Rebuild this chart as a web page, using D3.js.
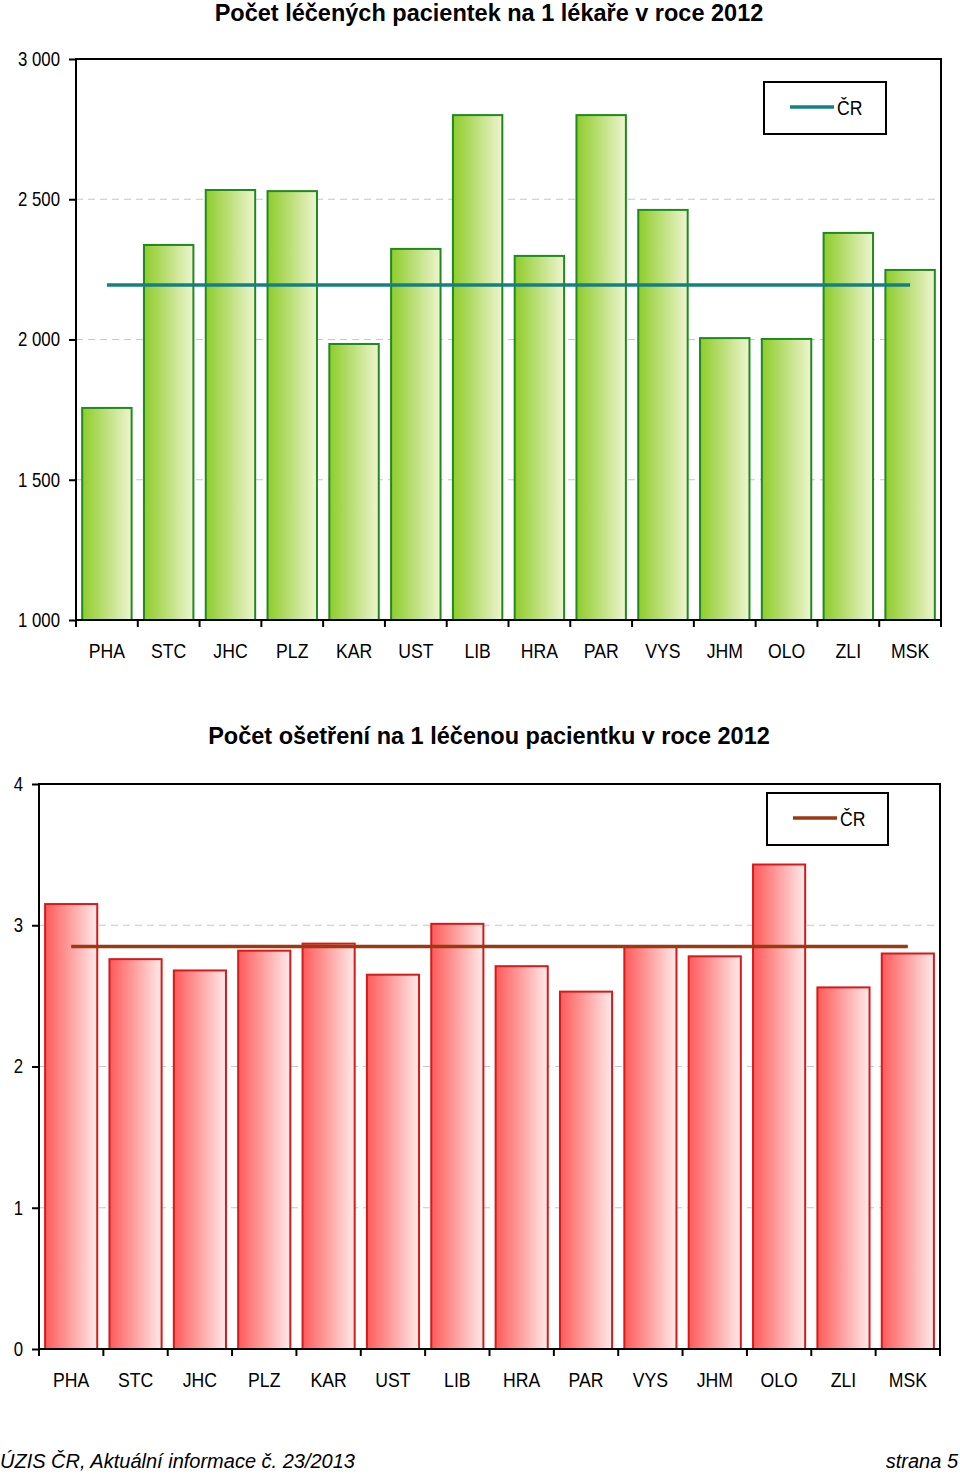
<!DOCTYPE html>
<html><head><meta charset="utf-8">
<script src="https://cdn.jsdelivr.net/npm/d3@7"></script>
<style>body{margin:0;background:#fff}svg{display:block}</style>
</head><body>
<svg id="c" width="960" height="1474"></svg>
<script>
const regions = ["PHA","STC","JHC","PLZ","KAR","UST","LIB","HRA","PAR","VYS","JHM","OLO","ZLI","MSK"];
const patientsPerDoctor = [1756,2337,2533,2529,1984,2323,2800,2298,2800,2462,2005,2002,2380,2248];
const patientsCR = 2194;
const treatmentsPerPatient = [3.15,2.76,2.68,2.82,2.87,2.65,3.01,2.71,2.53,2.85,2.78,3.43,2.56,2.80];
const treatmentsCR = 2.85;
const title1 = "Počet léčených pacientek na 1 lékaře v roce 2012";
const title2 = "Počet ošetření na 1 léčenou pacientku v roce 2012";
const yTicks1 = [1000,1500,2000,2500,3000];
const yTicks2 = [0,1,2,3,4];
const legendLabel = "ČR";

const svg = d3.select("#c");
const defs = svg.append("defs");
function grad(id, c1, c2){
  const g = defs.append("linearGradient").attr("id", id).attr("x1","0").attr("x2","1").attr("y1","0").attr("y2","0");
  g.append("stop").attr("offset","0").attr("stop-color",c1);
  g.append("stop").attr("offset","1").attr("stop-color",c2);
}
grad("gGreen","#8fcc2a","#eef5cf");
grad("gRed","#ff5a5a","#ffeaea");

const fmt = d => d3.format(",")(d).replace(/,/g," ");
const labelFont = "'Liberation Sans',Arial,sans-serif";
const SX = 0.84;

function chart(o){
  const g = svg.append("g");
  const x = d3.scaleBand().domain(regions).range([o.left,o.right]).paddingInner(o.pad).paddingOuter(o.pad/2);
  const y = d3.scaleLinear().domain(o.domain).range([o.bottom,o.top]);
  g.append("text").attr("x",o.titleX).attr("y",o.titleY).attr("text-anchor","middle")
    .style("font-family","'Liberation Sans',Arial,sans-serif").style("font-weight","bold").style("font-size","23.5px").text(o.title);
  // grid
  g.selectAll(".grid").data(o.ticks.slice(1,-1)).join("line")
    .attr("x1",o.left).attr("x2",o.right).attr("y1",d=>y(d)).attr("y2",d=>y(d))
    .attr("stroke","#c8c8c8").attr("stroke-width",1.2).attr("stroke-dasharray","7,5");
  // bars
  g.selectAll(".bar").data(o.values).join("rect")
    .attr("x",(d,i)=>x(regions[i])).attr("width",x.bandwidth())
    .attr("y",d=>y(d)).attr("height",d=>o.bottom-y(d))
    .attr("fill",o.fill).attr("stroke",o.stroke).attr("stroke-width",2);
  // CR line
  const c0 = x(regions[0])+x.bandwidth()/2, c1 = x(regions[regions.length-1])+x.bandwidth()/2;
  g.append("line").attr("x1",c0).attr("x2",c1).attr("y1",y(o.cr)).attr("y2",y(o.cr))
    .attr("stroke",o.lineColor).attr("stroke-width",3.5);
  // frame
  g.append("rect").attr("x",o.left).attr("y",o.top).attr("width",o.right-o.left).attr("height",o.bottom-o.top)
    .attr("fill","none").attr("stroke","#000").attr("stroke-width",2);
  // y axis
  const ya = g.append("g").attr("transform",`translate(${o.left},0)`)
    .call(d3.axisLeft(y).tickValues(o.ticks).tickFormat(fmt).tickSize(7).tickPadding(12));
  ya.select(".domain").remove();
  ya.selectAll("line").attr("stroke","#000").attr("stroke-width",2);
  ya.selectAll("text").style("font-family",labelFont).style("font-size","20px").attr("fill","#000")
    .attr("transform",`scale(${SX},1)`);
  // x axis
  const xa = g.append("g").attr("transform",`translate(0,${o.bottom})`)
    .call(d3.axisBottom(x).tickSize(0).tickPadding(23));
  xa.select(".domain").remove();
  xa.selectAll("text").style("font-family",labelFont).style("font-size","21px").attr("fill","#000")
    .attr("transform",`scale(${SX},1)`);
  const bounds = regions.map(r=>x(r)-x.step()*x.paddingInner()/2).concat([o.right]);
  g.selectAll(".xt").data(bounds).join("line")
    .attr("x1",d=>d).attr("x2",d=>d).attr("y1",o.bottom).attr("y2",o.bottom+7)
    .attr("stroke","#000").attr("stroke-width",2);
  // legend
  const L = o.legend;
  g.append("rect").attr("x",L.x).attr("y",L.y).attr("width",L.w).attr("height",L.h)
    .attr("fill","#fff").attr("stroke","#000").attr("stroke-width",2);
  g.append("line").attr("x1",L.x+26).attr("x2",L.x+70).attr("y1",L.y+L.h/2-1).attr("y2",L.y+L.h/2-1)
    .attr("stroke",o.lineColor).attr("stroke-width",3.5);
  g.append("text").attr("x",(L.x+73)/SX).attr("y",L.y+L.h/2+7).attr("transform",`scale(${SX},1)`)
    .style("font-family",labelFont).style("font-size","21px").text(legendLabel);
}

chart({left:76,right:941,top:59,bottom:620,domain:[1000,3000],ticks:yTicks1,values:patientsPerDoctor,cr:patientsCR,
  pad:0.2,fill:"url(#gGreen)",stroke:"#1f8a1f",lineColor:"#158080",title:title1,titleX:489,titleY:21,
  legend:{x:764,y:82,w:122,h:52}});
chart({left:39,right:940,top:784,bottom:1349,domain:[0,4],ticks:yTicks2,values:treatmentsPerPatient,cr:treatmentsCR,
  pad:0.19,fill:"url(#gRed)",stroke:"#d41a1a",lineColor:"#9a3a10",title:title2,titleX:489,titleY:744,
  legend:{x:767,y:793,w:121,h:52}});

svg.append("text").attr("x",0).attr("y",1468).style("font-family","'Liberation Sans',Arial,sans-serif")
  .style("font-style","italic").style("font-size","20px").text("ÚZIS ČR, Aktuální informace č. 23/2013");
svg.append("text").attr("x",958).attr("y",1468).attr("text-anchor","end").style("font-family","'Liberation Sans',Arial,sans-serif")
  .style("font-style","italic").style("font-size","20px").text("strana 5");
</script>
</body></html>
